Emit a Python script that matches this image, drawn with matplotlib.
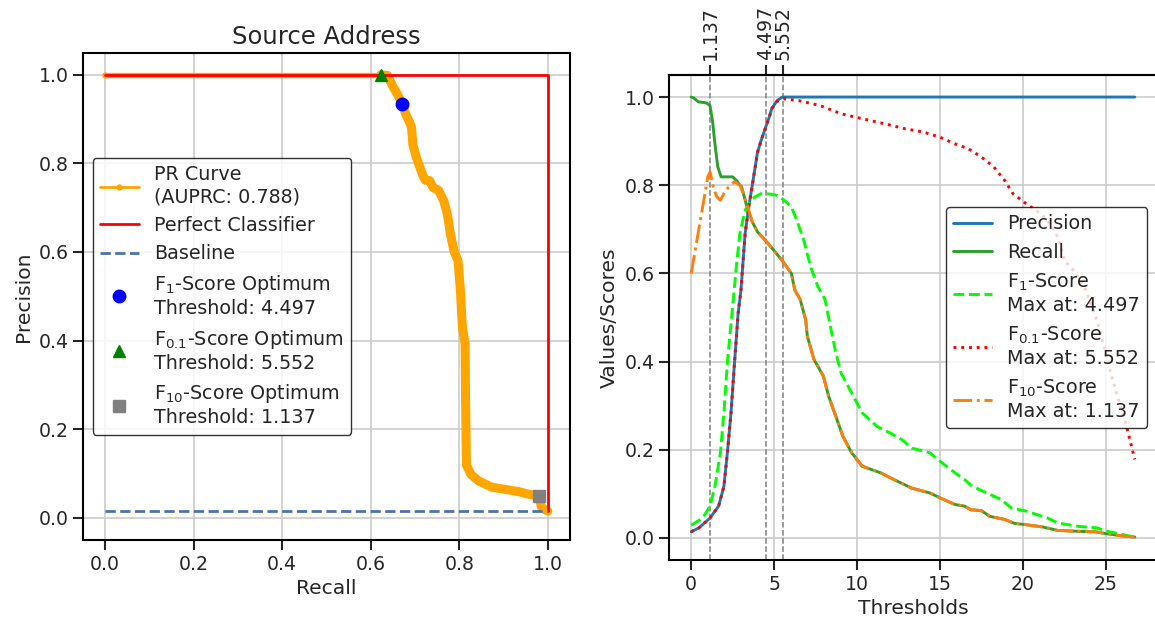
import numpy as np
import matplotlib
matplotlib.use('Agg')
import matplotlib.pyplot as plt
import seaborn as sns

# PR curve
pr_recall = [0.0, 0.623, 0.638, 0.649, 0.66, 0.671, 0.679, 0.688, 0.692, 0.695, 0.703, 0.711,
             0.718, 0.723, 0.733, 0.741, 0.753, 0.765, 0.773, 0.78, 0.788, 0.797, 0.802,
             0.807, 0.813, 0.814, 0.816, 0.826, 0.844, 0.874, 0.905, 0.935, 0.957, 0.979,
             0.986, 1.0]
pr_precision = [1.0, 1.0, 0.998, 0.975, 0.956, 0.934, 0.911, 0.892, 0.881, 0.843, 0.813, 0.791,
                0.772, 0.762, 0.761, 0.745, 0.739, 0.715, 0.685, 0.64, 0.602, 0.58, 0.52,
                0.429, 0.392, 0.279, 0.12, 0.098, 0.083, 0.069, 0.064, 0.059, 0.053, 0.05,
                0.023, 0.015]
auprc = 0.788
baseline = 0.015

opt_names = ['1', '0.1', '10']
opt_thr = [4.497, 5.552, 1.137]
opt_recall = [0.671, 0.623, 0.979]
opt_precision = [0.934, 1.0, 0.05]

# threshold curves
thr_prec = [0, 0.47, 1.13, 1.65, 1.97, 2.18, 2.4, 2.61, 2.83, 3.0, 3.25, 3.47, 3.73, 4.0,
            4.22, 4.43, 4.71, 4.86, 5.18, 5.5, 26.75]
precision = [0.014, 0.023, 0.045, 0.072, 0.117, 0.193, 0.284, 0.397, 0.51, 0.562, 0.69, 0.751,
             0.811, 0.875, 0.902, 0.925, 0.955, 0.974, 0.992, 1.0, 1.0]

thr_rec = [0, 0.15, 0.43, 0.9, 1.13, 1.28, 1.43, 1.6, 1.8, 2.5, 2.72, 3.04, 3.36, 3.68, 4.0,
           4.47, 4.97, 5.55, 6.04, 6.25, 6.57, 6.9, 7.0, 7.4, 7.97, 8.29, 8.72, 9.14, 9.68,
           10.3, 11.4, 12.25, 13.3, 14.4, 15.0, 15.9, 16.5, 16.85, 17.5, 18.0, 18.9, 19.5,
           20.2, 21.2, 22.1, 23.4, 24.45, 25.0, 25.95, 26.75]
recall = [1.0, 0.998, 0.989, 0.987, 0.981, 0.947, 0.894, 0.842, 0.819, 0.819, 0.811, 0.796,
          0.751, 0.717, 0.694, 0.675, 0.653, 0.626, 0.6, 0.562, 0.541, 0.495, 0.458, 0.405,
          0.367, 0.321, 0.276, 0.231, 0.193, 0.163, 0.148, 0.132, 0.113, 0.102, 0.091, 0.076,
          0.072, 0.064, 0.062, 0.049, 0.042, 0.033, 0.030, 0.025, 0.017, 0.015, 0.0136,
          0.0098, 0.005, 0.002]

thr_f1 = [0, 0.69, 1.13, 1.43, 1.76, 1.97, 2.18, 2.5, 2.72, 2.93, 3.25, 3.68, 4.22, 4.75,
          5.18, 5.61, 6.04, 6.36, 6.79, 7.2, 7.64, 8.07, 8.39, 8.72, 9.04, 9.46, 10.0, 10.3,
          11.2, 12.0, 12.7, 13.3, 14.4, 15.0, 15.9, 16.5, 16.95, 17.6, 18.7, 19.3, 20.2,
          21.5, 22.1, 23.4, 24.45, 25.1, 26.75]
f1 = [0.029, 0.045, 0.072, 0.117, 0.193, 0.284, 0.397, 0.526, 0.615, 0.69, 0.743, 0.77,
      0.781, 0.78, 0.777, 0.766, 0.751, 0.721, 0.675, 0.615, 0.57, 0.541, 0.48, 0.42, 0.374,
      0.344, 0.306, 0.284, 0.253, 0.238, 0.223, 0.204, 0.193, 0.174, 0.148, 0.132, 0.117,
      0.106, 0.087, 0.068, 0.061, 0.045, 0.034, 0.026, 0.023, 0.015, 0.002]

thr_f01 = [0, 0.47, 1.13, 1.65, 1.97, 2.18, 2.4, 2.61, 2.83, 3.0, 3.25, 3.47, 3.73, 4.0, 4.22,
           4.43, 4.71, 4.86, 5.18, 5.55, 6.47, 7.75, 9.04, 10.3, 11.6, 12.9, 13.96, 15.0,
           15.9, 16.7, 17.5, 18.24, 18.9, 19.4, 20.2, 20.8, 21.5, 22.1, 22.5, 23.2, 23.8,
           24.45, 24.9, 25.3, 25.7, 26.2, 26.5, 26.75]
f01 = [0.014, 0.023, 0.045, 0.072, 0.117, 0.193, 0.284, 0.397, 0.51, 0.562, 0.69, 0.751,
       0.811, 0.875, 0.902, 0.925, 0.955, 0.974, 0.99, 0.996, 0.992, 0.981, 0.962, 0.951,
       0.94, 0.928, 0.921, 0.909, 0.894, 0.883, 0.864, 0.842, 0.811, 0.781, 0.758, 0.743,
       0.721, 0.683, 0.63, 0.6, 0.562, 0.495, 0.435, 0.374, 0.321, 0.261, 0.216, 0.178]

thr_f10 = [0, 0.69, 1.0, 1.137, 1.33, 1.54, 1.76, 2.08, 2.61, 2.93, 3.15, 3.47, 3.68, 4.0,
           4.47, 4.97, 5.55, 6.04, 6.25, 6.57, 6.9, 7.0, 7.4, 7.97, 8.29, 8.72, 9.14, 9.68,
           10.3, 11.4, 12.25, 13.3, 14.4, 15.0, 15.9, 16.5, 16.85, 17.5, 18.0, 18.9, 19.5,
           20.2, 21.2, 22.1, 23.4, 24.45, 25.0, 25.95, 26.75]
f10 = [0.6, 0.751, 0.819, 0.83, 0.796, 0.774, 0.766, 0.789, 0.808, 0.8, 0.781, 0.743, 0.717,
       0.694, 0.675, 0.653, 0.626, 0.6, 0.562, 0.541, 0.495, 0.458, 0.405, 0.367, 0.321,
       0.276, 0.231, 0.193, 0.163, 0.148, 0.132, 0.113, 0.102, 0.091, 0.076, 0.072, 0.064,
       0.062, 0.049, 0.042, 0.033, 0.030, 0.025, 0.017, 0.015, 0.0136, 0.0098, 0.005, 0.002]


sns.set_theme(style='ticks', rc={
    'axes.grid': True, 'grid.color': '.8', 'grid.linewidth': 1.2,
    'axes.edgecolor': 'black', 'axes.linewidth': 1.5,
    'xtick.major.size': 7, 'ytick.major.size': 7,
    'xtick.major.width': 1.5, 'ytick.major.width': 1.5,
    'xtick.labelsize': 13.6, 'ytick.labelsize': 13.6,
    'axes.labelsize': 14.6, 'legend.fontsize': 13.8,
    'lines.linewidth': 2.1,
})
plt.rcParams['font.family'] = ['DejaVu Sans']

fig = plt.figure(figsize=(11.55, 6.24), dpi=100)
ax1 = fig.add_axes([83 / 1155, 84 / 624, 487 / 1155, 487.5 / 624])
ax2 = fig.add_axes([669 / 1155, 64 / 624, 488 / 1155, 485 / 624])

# ---- left: PR curve
ax1.plot(pr_recall[:2], pr_precision[:2], color='orange', lw=3.8, solid_capstyle='round')
ax1.plot(pr_recall[1:], pr_precision[1:], color='orange', lw=6.5,
         solid_capstyle='round', solid_joinstyle='round')
ax1.plot(pr_recall, pr_precision, color='orange', marker='.', ms=7, lw=2.0,
         label=f'PR Curve\n(AUPRC: {auprc:.3f})')
ax1.plot([0, 1, 1], [1, 1, baseline], color='red', lw=2.0, label='Perfect Classifier')
ax1.plot([0, 1], [baseline, baseline], color='#4c72b0', ls='--', lw=2.0, label='Baseline')
markers = ['o', '^', 's']
mcolors = ['blue', 'green', 'gray']
for i in range(3):
    ax1.plot(opt_recall[i], opt_precision[i], marker=markers[i], color=mcolors[i], ls='none',
             ms=9, zorder=5,
             label=f'F$_{{{opt_names[i]}}}$-Score Optimum\nThreshold: {opt_thr[i]:.3f}')
ax1.set_xlim(-0.05, 1.05)
ax1.set_ylim(-0.05, 1.05)
ax1.set_xlabel('Recall')
ax1.set_ylabel('Precision')
ax1.set_title('Source Address', fontsize=17.5)
ax1.legend(loc='center left', edgecolor='black')

# ---- right: metrics vs threshold
for t in opt_thr:
    ax2.axvline(t, color='gray', ls='--', lw=1.1, zorder=1)
ax2.plot(thr_prec, precision, color='#1f77b4', label='Precision')
ax2.plot(thr_rec, recall, color='#2ca02c', label='Recall')
ax2.plot(thr_f1, f1, color='lime', ls='--', label='F$_{1}$-Score\nMax at: 4.497')
ax2.plot(thr_f01, f01, color='red', ls=':', label='F$_{0.1}$-Score\nMax at: 5.552')
ax2.plot(thr_f10, f10, color='#ff7f0e', ls='-.', label='F$_{10}$-Score\nMax at: 1.137')
ax2.set_xlim(-1.34, 28.09)
ax2.set_ylim(-0.05, 1.05)
ax2.set_xlabel('Thresholds')
ax2.set_ylabel('Values/Scores')
ax2.legend(loc='center right', edgecolor='black')

top = ax2.secondary_xaxis('top')
top.set_xticks(opt_thr, labels=[f'{t:.3f}' for t in opt_thr])
top.tick_params(axis='x', rotation=90)

fig.savefig('out.png', dpi=100)
